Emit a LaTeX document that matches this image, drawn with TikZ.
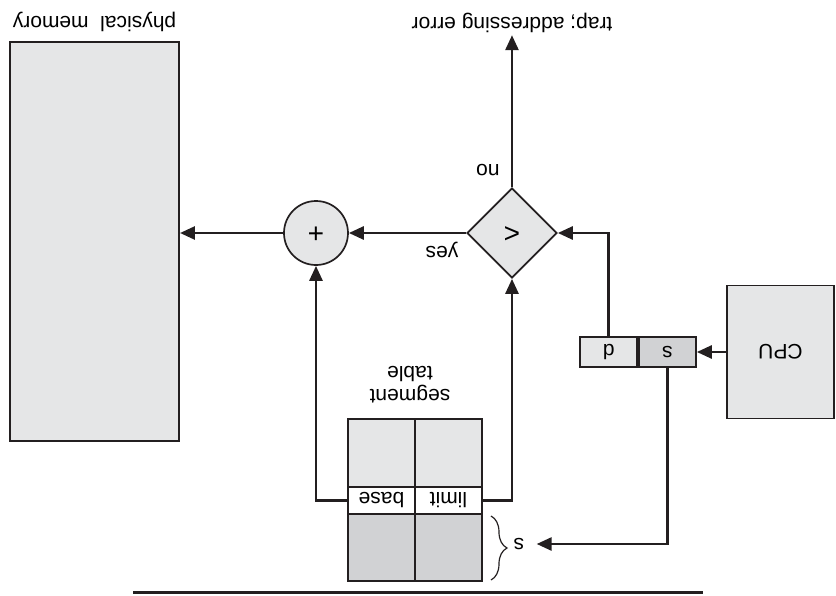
\documentclass[tikz,border=0pt]{standalone}
\usepackage{fontspec}
\setmainfont{Liberation Sans}
\usetikzlibrary{shapes,arrows.meta,positioning,decorations.pathreplacing}
\definecolor{inkline}{RGB}{35,31,32}
\definecolor{boxgray}{RGB}{229,230,231}
\definecolor{rowgray}{RGB}{209,210,212}

\begin{document}
\begin{tikzpicture}[x=0.5pt, y=0.5pt, rotate=180, transform shape,
    font=\fontsize{10.5}{11.5}\selectfont,
    box/.style={draw=inkline, line width=0.85pt, fill=boxgray, inner sep=0pt},
    cell/.style={box, minimum width=33.5pt},
    wire/.style={draw=inkline, line width=1.35pt},
    arr/.style={wire, -{Triangle[length=7.5pt, width=6.5pt]}}]
    \useasboundingbox (0,0) rectangle (836,595);

    % cpu and logical address
    \node[box, minimum width=53.5pt, minimum height=66.5pt] (cpu) at (55.5,352) {CPU};
    \node[box, fill=rowgray, minimum width=28.5pt, minimum height=15pt] (scell) at (168.5,352) {s};
    \node[box, minimum width=28.5pt, minimum height=15pt, right=0pt of scell] (dcell) {d};

    % segment table
    \node[cell, minimum height=34pt] (lim1) at (387.5,453) {};
    \node[cell, minimum height=34pt] (bas1) at (454.5,453) {};
    \node[cell, fill=white, minimum height=13.5pt] (limit) at (387.5,500.5) {limit};
    \node[cell, fill=white, minimum height=13.5pt] (base) at (454.5,500.5) {base};
    \node[cell, fill=rowgray, minimum height=33.5pt] (lim3) at (387.5,547.5) {};
    \node[cell, fill=rowgray, minimum height=33.5pt] (bas3) at (454.5,547.5) {};
    \node[align=center] (seglbl) at (426,385) {segment\\table};
    \draw[draw=inkline, line width=0.6pt, decorate, decoration={brace, amplitude=8pt}]
        (345,516) -- (345,580);
    \node[inner xsep=6pt] (sidx) at (317,544) {s};

    % compare and add
    \node[box, diamond, minimum width=45pt, minimum height=45pt] (cmp) at (324,233)
        {\fontsize{14}{14}\selectfont <};
    \node[box, circle, minimum size=32pt] (add) at (520,233)
        {\fontsize{14}{14}\selectfont +};
    \node (nolbl) at (348,170) {no};
    \node (yeslbl) at (394,250) {yes};
    \node[inner sep=1pt] (trap) at (324,23) {trap; addressing error};

    % physical memory
    \node[box, line width=1pt, minimum width=84.5pt, minimum height=199.5pt] (mem) at (741.5,241.5) {};
    \node (memlbl) at (741.5,22) {physical\ \ memory};

    % connectors
    \draw[arr] (cpu.east) -- (scell.west);
    \draw[arr] (scell.north) |- (sidx.west);
    \draw[arr] (dcell.south) |- (cmp.west);
    \draw[arr] (limit.west) -| (cmp.north);
    \draw[arr] (base.east) -| (add.north);
    \draw[arr] (cmp.east) -- (add.west);
    \draw[arr] (add.east) -- (add.east -| mem.west);
    \draw[arr] (cmp.south) -- (trap.north);

    \draw[draw=inkline, line width=1.5pt] (133,592.5) -- (703,592.5);
\end{tikzpicture}
\end{document}
